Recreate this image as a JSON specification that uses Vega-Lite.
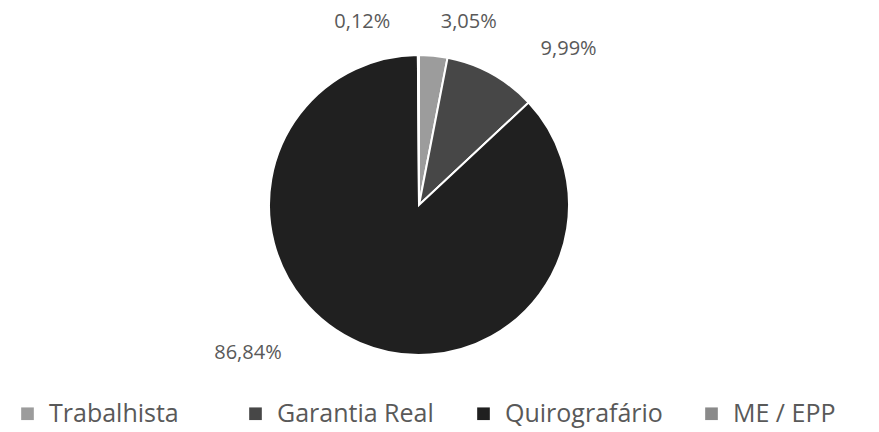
{
  "$schema": "https://vega.github.io/schema/vega-lite/v6.json",
  "width": 838,
  "height": 410,
  "autosize": {"type": "none"},
  "padding": {"left": 0, "top": 0, "right": 41, "bottom": 22},
  "background": "white",
  "config": {"view": {"stroke": null}, "text": {"font": "Open Sans"}},
  "data": {
    "values": [
      {"categoria": "Trabalhista", "valor": 3.05, "rotulo": "3,05%", "ordem": 1},
      {"categoria": "Garantia Real", "valor": 9.99, "rotulo": "9,99%", "ordem": 2},
      {"categoria": "Quirografário", "valor": 86.84, "rotulo": "86,84%", "ordem": 3},
      {"categoria": "ME / EPP", "valor": 0.12, "rotulo": "0,12%", "ordem": 4}
    ]
  },
  "encoding": {
    "theta": {"field": "valor", "type": "quantitative", "stack": true},
    "order": {"field": "ordem", "type": "quantitative"}
  },
  "layer": [
    {
      "mark": {"type": "arc", "outerRadius": 150, "stroke": "white", "strokeWidth": 2},
      "encoding": {
        "color": {
          "field": "categoria",
          "type": "nominal",
          "sort": ["Trabalhista", "Garantia Real", "Quirografário", "ME / EPP"],
          "scale": {
            "domain": ["Trabalhista", "Garantia Real", "Quirografário", "ME / EPP"],
            "range": ["#9c9c9c", "#474747", "#202020", "#8a8a8a"]
          },
          "legend": {
            "title": null,
            "orient": "none",
            "direction": "horizontal",
            "columns": 4,
            "gridAlign": "all",
            "legendX": 15,
            "legendY": 401,
            "padding": 0,
            "symbolType": "square",
            "symbolSize": 160,
            "symbolStrokeWidth": 0,
            "labelFont": "Open Sans",
            "labelFontSize": 25,
            "labelColor": "#595959",
            "labelOffset": 9,
            "labelLimit": 400,
            "columnPadding": 36
          }
        }
      }
    },
    {
      "mark": {"type": "text", "radius": 185, "dx": 32, "dy": 1, "fontSize": 20, "fill": "#595959"},
      "encoding": {"text": {"condition": {"test": "datum.categoria === 'Trabalhista'", "field": "rotulo"}, "value": ""}}
    },
    {
      "mark": {"type": "text", "radius": 185, "dx": 60, "dy": 6, "fontSize": 20, "fill": "#595959"},
      "encoding": {"text": {"condition": {"test": "datum.categoria === 'Garantia Real'", "field": "rotulo"}, "value": ""}}
    },
    {
      "mark": {"type": "text", "radius": 185, "dx": -98, "dy": -22, "fontSize": 20, "fill": "#595959"},
      "encoding": {"text": {"condition": {"test": "datum.categoria === 'Quirografário'", "field": "rotulo"}, "value": ""}}
    },
    {
      "mark": {"type": "text", "radius": 185, "dx": -56, "dy": 2, "fontSize": 20, "fill": "#595959"},
      "encoding": {"text": {"condition": {"test": "datum.categoria === 'ME / EPP'", "field": "rotulo"}, "value": ""}}
    }
  ]
}
